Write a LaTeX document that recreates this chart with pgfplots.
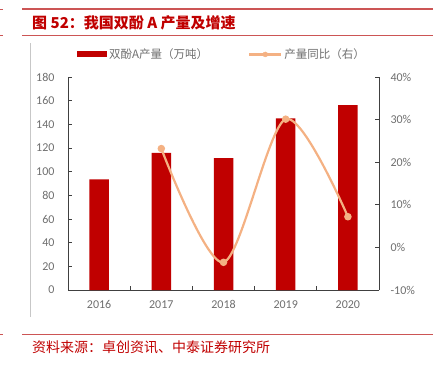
\documentclass[border=0pt]{standalone}
\usepackage{pgfplots}
\pgfplotsset{compat=1.18}
\usepackage{fontspec}
\setmainfont{Carlito}
\newfontfamily\cjk{Noto Sans CJK SC}
\definecolor{barred}{HTML}{C00000}
\definecolor{lineor}{HTML}{F4B183}
\definecolor{rulered}{HTML}{CC5555}
\definecolor{titlered}{HTML}{C00000}
\definecolor{ticktext}{HTML}{6E6E6E}
\definecolor{axisgray}{HTML}{404040}
\begin{document}
\begin{tikzpicture}[x=1bp,y=1bp]
\path[use as bounding box] (0,0) rectangle (437,367);
\draw[rulered, line width=1.6bp] (22,358) -- (433,358);
\draw[rulered, line width=0.8bp] (0,358) -- (3,358);
\draw[rulered, line width=1bp] (22,332) -- (433,332);
\draw[rulered, line width=0.8bp] (0,332) -- (3,332);
\draw[black!22, line width=0.8bp] (30.5,324) -- (30.5,50);
\draw[rulered, line width=1bp] (22,33) -- (433,33);
\draw[rulered, line width=0.8bp] (0,33) -- (3,33);
\node[anchor=west, inner sep=0, text=titlered, font=\fontsize{15bp}{18bp}\selectfont\cjk\bfseries] at (32,344) {图 52：我国双酚 A 产量及增速};
\node[anchor=west, inner sep=0, text=titlered, font=\fontsize{14bp}{17bp}\selectfont\cjk] at (32,20) {资料来源：卓创资讯、中泰证券研究所};
\begin{axis}[
  scale only axis, width=311bp, height=213bp, at={(68bp,77bp)}, anchor=south west,
  xmin=-0.5, xmax=4.5, ymin=0, ymax=180, ytick={0,20,...,180},
  axis x line*=bottom, axis y line*=left,
  axis line style={draw=axisgray, line width=0.8bp, -},
  tick align=inside, major tick length=4bp, minor tick length=4bp,
  tick style={draw=axisgray, line width=0.8bp},
  xtick={0,1,2,3,4}, xticklabels={2016,2017,2018,2019,2020},
  major x tick style={draw=none},
  minor xtick={0.5,1.5,2.5,3.5},
  minor x tick style={draw=axisgray, line width=0.8bp},
  ticklabel style={font=\fontsize{12bp}{14bp}\selectfont, text=ticktext},
  /pgf/number format/assume math mode=true,
  yticklabel style={xshift=-10bp},
  xticklabel style={yshift=-7bp},
  legend columns=2,
  legend style={draw=none, fill=none, inner sep=0pt, at={(0.029,1.106)}, anchor=west,
    font=\fontsize{11.5bp}{13bp}\selectfont\cjk, text=ticktext,
    /tikz/every even column/.append style={column sep=38bp}},
]
\addplot[ybar, bar width=19.5bp, fill=barred, draw=none,
  legend image code/.code={\fill[barred] (0bp,-3bp) rectangle (30bp,3bp);}]
  coordinates {(0,93.5)(1,115.8)(2,111.5)(3,145.1)(4,156.3)};
\addlegendentry{双酚A产量（万吨）}
\addlegendimage{legend image code/.code={\draw[lineor, line width=2.2bp] (0bp,0bp) -- (32bp,0bp); \fill[lineor] (16bp,0bp) circle (2.5bp);}}
\addlegendentry{产量同比（右）}
\end{axis}
\begin{axis}[
  scale only axis, width=311bp, height=213bp, at={(68bp,77bp)}, anchor=south west,
  xmin=-0.5, xmax=4.5, ymin=-10, ymax=40, ytick={-10,0,10,20,30,40},
  axis x line=none, axis y line*=right,
  axis line style={draw=axisgray, line width=0.8bp, -},
  tick align=inside, major tick length=4bp,
  tick style={draw=axisgray, line width=0.8bp},
  ticklabel style={font=\fontsize{12bp}{14bp}\selectfont, text=ticktext},
  /pgf/number format/assume math mode=true,
  yticklabel={\pgfmathprintnumber{\tick}\%},
  yticklabel style={xshift=8bp},
  clip=false,
]
\addplot[lineor, line width=2.2bp, smooth, mark=*, mark size=2.6bp, mark options={fill=lineor, draw=lineor}]
  coordinates {(1,23.2)(2,-3.5)(3,30.1)(4,7.2)};
\end{axis}
\end{tikzpicture}
\end{document}
